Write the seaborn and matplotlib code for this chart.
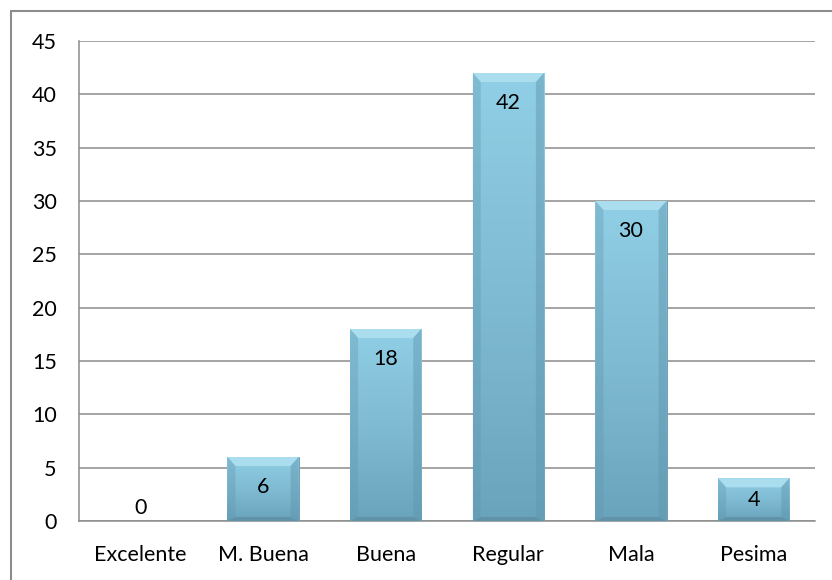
import matplotlib
matplotlib.use("Agg")
import matplotlib.pyplot as plt
import seaborn as sns
import pandas as pd
import numpy as np
from matplotlib.patches import Polygon
from matplotlib.lines import Line2D

categorias = ["Excelente", "M. Buena", "Buena", "Regular", "Mala", "Pesima"]
valores = [0, 6, 18, 42, 30, 4]
yticks = [0, 5, 10, 15, 20, 25, 30, 35, 40, 45]

df = pd.DataFrame({"categoria": categorias, "valor": valores})

sns.set_style("white")
plt.rcParams["font.family"] = ["Lato", "DejaVu Sans"]

fig = plt.figure(figsize=(8.32, 5.8), dpi=100)
ax = fig.add_axes([79 / 832, 1 - 521 / 580, 736 / 832, 480 / 580])

sns.barplot(data=df, x="categoria", y="valor", color="#86c6de", width=0.58,
            saturation=1, ax=ax, zorder=3)

ax.set_ylim(0, 45)
ax.set_xlim(-0.5, len(categorias) - 0.5)
ax.set_yticks(yticks)
ax.yaxis.grid(True, color="#8c8c8c", linewidth=1.1, zorder=0)
ax.xaxis.grid(False)
ax.set_xlabel("")
ax.set_ylabel("")
for s in ["top", "right"]:
    ax.spines[s].set_visible(False)
for s in ["left", "bottom"]:
    ax.spines[s].set_color("#8c8c8c")
    ax.spines[s].set_linewidth(1.1)
ax.tick_params(axis="both", labelsize=15.5, length=0, colors="black")
ax.tick_params(axis="y", pad=16)
ax.tick_params(axis="x", pad=17)
ax.set_axisbelow(True)

# escala pixel -> datos
px_x = (len(categorias)) / 736
px_y = 45 / 480

grad = np.linspace(0, 1, 64).reshape(-1, 1)
cmap = matplotlib.colors.LinearSegmentedColormap.from_list(
    "cara", ["#6aa4bc", "#7fbbd3", "#90cfe5"])

for patch, v in zip(ax.patches, valores):
    x0, y0 = patch.get_x(), patch.get_y()
    w, h = patch.get_width(), patch.get_height()
    if h > 0:
        patch.set_edgecolor("#6f9fb3")
        patch.set_linewidth(0.7)
        im = ax.imshow(grad, extent=(x0, x0 + w, y0, y0 + h), origin="lower",
                       cmap=cmap, aspect="auto", zorder=3.5)
        im.set_clip_path(patch)
        bt = min(9 * px_y, h / 2)
        bb = min(4 * px_y, h / 4)
        bx = 8 * px_x
        x1, y1 = x0 + w, y0 + h
        top = Polygon([(x0, y1), (x1, y1), (x1 - bx, y1 - bt), (x0 + bx, y1 - bt)],
                      closed=True, facecolor="#aadded", edgecolor="none", zorder=4)
        bot = Polygon([(x0, y0), (x1, y0), (x1 - bx, y0 + bb), (x0 + bx, y0 + bb)],
                      closed=True, facecolor="#5e8fa4", edgecolor="none", zorder=4, alpha=0.8)
        left = Polygon([(x0, y0), (x0, y1), (x0 + bx, y1 - bt), (x0 + bx, y0 + bb)],
                       closed=True, facecolor="#5f95ad", edgecolor="none", zorder=4, alpha=0.35)
        right = Polygon([(x1, y0), (x1, y1), (x1 - bx, y1 - bt), (x1 - bx, y0 + bb)],
                        closed=True, facecolor="#5f95ad", edgecolor="none", zorder=4, alpha=0.45)
        for p in (top, bot, left, right):
            ax.add_patch(p)
        hpx = h / px_y
        off = -min(30, hpx / 2)
    else:
        patch.set_linewidth(0)
        patch.set_visible(False)
        off = 13
    ax.annotate(str(v), (x0 + w / 2, y0 + h), xytext=(0, off),
                textcoords="offset pixels", ha="center", va="center",
                fontsize=15.5, color="black", zorder=6)

ax.set_ylim(0, 45)
ax.set_xlim(-0.5, len(categorias) - 0.5)

# borde exterior del gráfico
fig.add_artist(Line2D([11 / 832, 11 / 832], [0, 1 - 11 / 580], transform=fig.transFigure,
                      color="#8c8c8c", linewidth=1.5))
fig.add_artist(Line2D([11 / 832, 1], [1 - 11 / 580, 1 - 11 / 580], transform=fig.transFigure,
                      color="#8c8c8c", linewidth=1.5))

fig.savefig("out.png", dpi=100)
